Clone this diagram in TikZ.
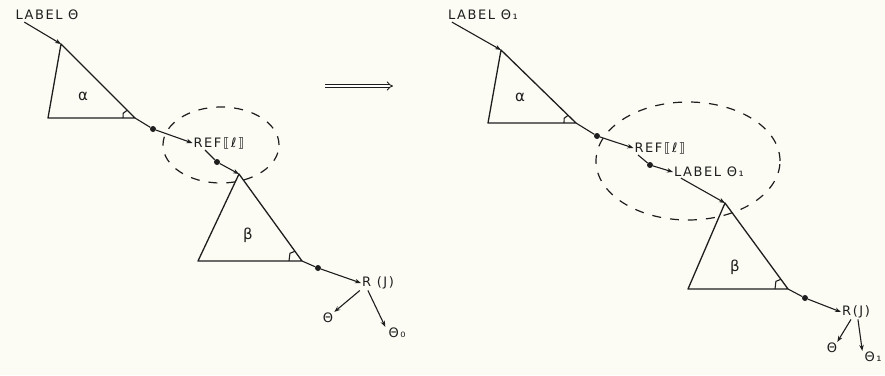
\documentclass[tikz,border=0pt]{standalone}
\usepackage{fontspec}
\newfontfamily\hand[LetterSpace=12]{DejaVu Sans}
\newfontfamily\handg{DejaVu Sans}
\usetikzlibrary{arrows.meta,calc}
\definecolor{bg}{RGB}{252,252,245}
\definecolor{ink}{RGB}{30,30,30}
\begin{document}
\begin{tikzpicture}[x=1pt,y=-1pt,
  txt/.style={font=\hand\fontsize{13}{15}\selectfont, text=ink, inner sep=1pt},
  greek/.style={font=\handg\fontsize{15}{17}\selectfont, text=ink, inner sep=0pt},
  ln/.style={draw=ink, line width=1.1pt},
  arr/.style={ln, -{Stealth[length=6pt,width=4.5pt]}},
  dotn/.style={circle, fill=ink, inner sep=0pt, minimum size=6pt},
  tri/.style={draw=ink, line width=1.3pt, line join=round},
  ring/.style={draw=ink, line width=1.2pt, dash pattern=on 9pt off 9pt},
  angmark/.style={draw=ink, line width=1.1pt}]
\fill[bg] (0,0) rectangle (885,375);
\useasboundingbox (0,0) rectangle (885,375);

% ---------- left diagram ----------
\node[txt] (lab1) at (47,15) {LABEL Θ};
\coordinate (a1) at (61,44);
\coordinate (a1l) at (48,118);
\coordinate (a1r) at (135,118);
\draw[tri] (a1) -- (a1l) -- (a1r) -- cycle;
\node[greek] (al1) at (83,96) {α};
\draw[angmark] ($(a1r)!11pt!(a1)$) -- ++(-4,3) -- ($(a1r)!12pt!(a1l)$);
\draw[arr] ([xshift=10pt,yshift=-1pt]lab1.south west) -- (a1);

\draw[ring] (221,145) ellipse [x radius=58pt, y radius=38pt];
\node[dotn] (d1) at (153,129) {};
\node[txt] (ref1) at (219,143) {REF⟦ℓ⟧};
\draw[ln] (a1r) -- (d1);
\draw[arr] (d1) -- (ref1.west);

\coordinate (b1) at (239,174);
\coordinate (b1l) at (198,261);
\coordinate (b1r) at (302,261);
\node[dotn] (d2) at (217,162) {};
\draw[ln] ([xshift=-14pt]ref1.south) -- (d2);
\draw[arr] (d2) -- (b1);
\draw[tri] (b1) -- (b1l) -- (b1r) -- cycle;
\node[greek] (be1) at (248,235) {β};
\draw[angmark] ($(b1r)!12pt!(b1)$) -- ++(-5,2) -- ($(b1r)!13pt!(b1l)$);

\node[dotn] (d3) at (318,268) {};
\node[txt] (r1) at (378,283) {R (J)};
\draw[ln] (b1r) -- (d3);
\draw[arr] (d3) -- (r1.west);
\node[txt] (t1) at (328,318) {Θ};
\node[txt] (t2) at (397,333) {Θ₀};
\draw[arr] ([xshift=-1pt]r1.south west) -- (t1.north east);
\draw[arr] ([xshift=7pt]r1.south west) -- ([xshift=-2pt]t2.north west);

% ---------- implication arrow ----------
\coordinate (i1) at (325,86);
\coordinate (i2) at (393,86);
\draw[draw=ink, line width=0.9pt, double distance=2.2pt, -{Implies}] (i1) -- (i2);

% ---------- right diagram ----------
\node[txt] (lab2) at (483,15) {LABEL Θ₁};
\coordinate (a2) at (501,50);
\coordinate (a2l) at (488,123);
\coordinate (a2r) at (576,123);
\draw[tri] (a2) -- (a2l) -- (a2r) -- cycle;
\node[greek] (al2) at (520,97) {α};
\draw[angmark] ($(a2r)!11pt!(a2)$) -- ++(-4,3) -- ($(a2r)!12pt!(a2l)$);
\draw[arr] ([xshift=5pt,yshift=-1pt]lab2.south west) -- (a2);

\draw[ring] (688,161) ellipse [x radius=92pt, y radius=59pt];
\node[dotn] (d4) at (597,136) {};
\node[txt] (ref2) at (660,148) {REF⟦ℓ⟧};
\draw[ln] (a2r) -- (d4);
\draw[arr] (d4) -- (ref2.west);

\node[dotn] (d5) at (650,165) {};
\node[txt] (lab3) at (709,172) {LABEL Θ₁};
\draw[ln] ([xshift=-22pt]ref2.south) -- (d5);
\draw[arr] (d5) -- (lab3.west);

\coordinate (b2) at (725,203);
\coordinate (b2l) at (688,289);
\coordinate (b2r) at (788,289);
\draw[arr] ([xshift=8pt]lab3.south west) -- (b2);
\draw[tri] (b2) -- (b2l) -- (b2r) -- cycle;
\node[greek] (be2) at (735,267) {β};
\draw[angmark] ($(b2r)!12pt!(b2)$) -- ++(-5,2) -- ($(b2r)!13pt!(b2l)$);

\node[dotn] (d6) at (805,298) {};
\node[txt] (r2) at (856,312) {R(J)};
\draw[ln] (b2r) -- (d6);
\draw[arr] (d6) -- (r2.west);
\node[txt] (t3) at (832,348) {Θ};
\node[txt] (t4) at (873,357) {Θ₁};
\draw[arr] ([xshift=10pt]r2.south west) -- ([xshift=-1pt]t3.north east);
\draw[arr] ([xshift=17pt]r2.south west) -- ([xshift=-1pt]t4.north west);
\end{tikzpicture}
\end{document}
